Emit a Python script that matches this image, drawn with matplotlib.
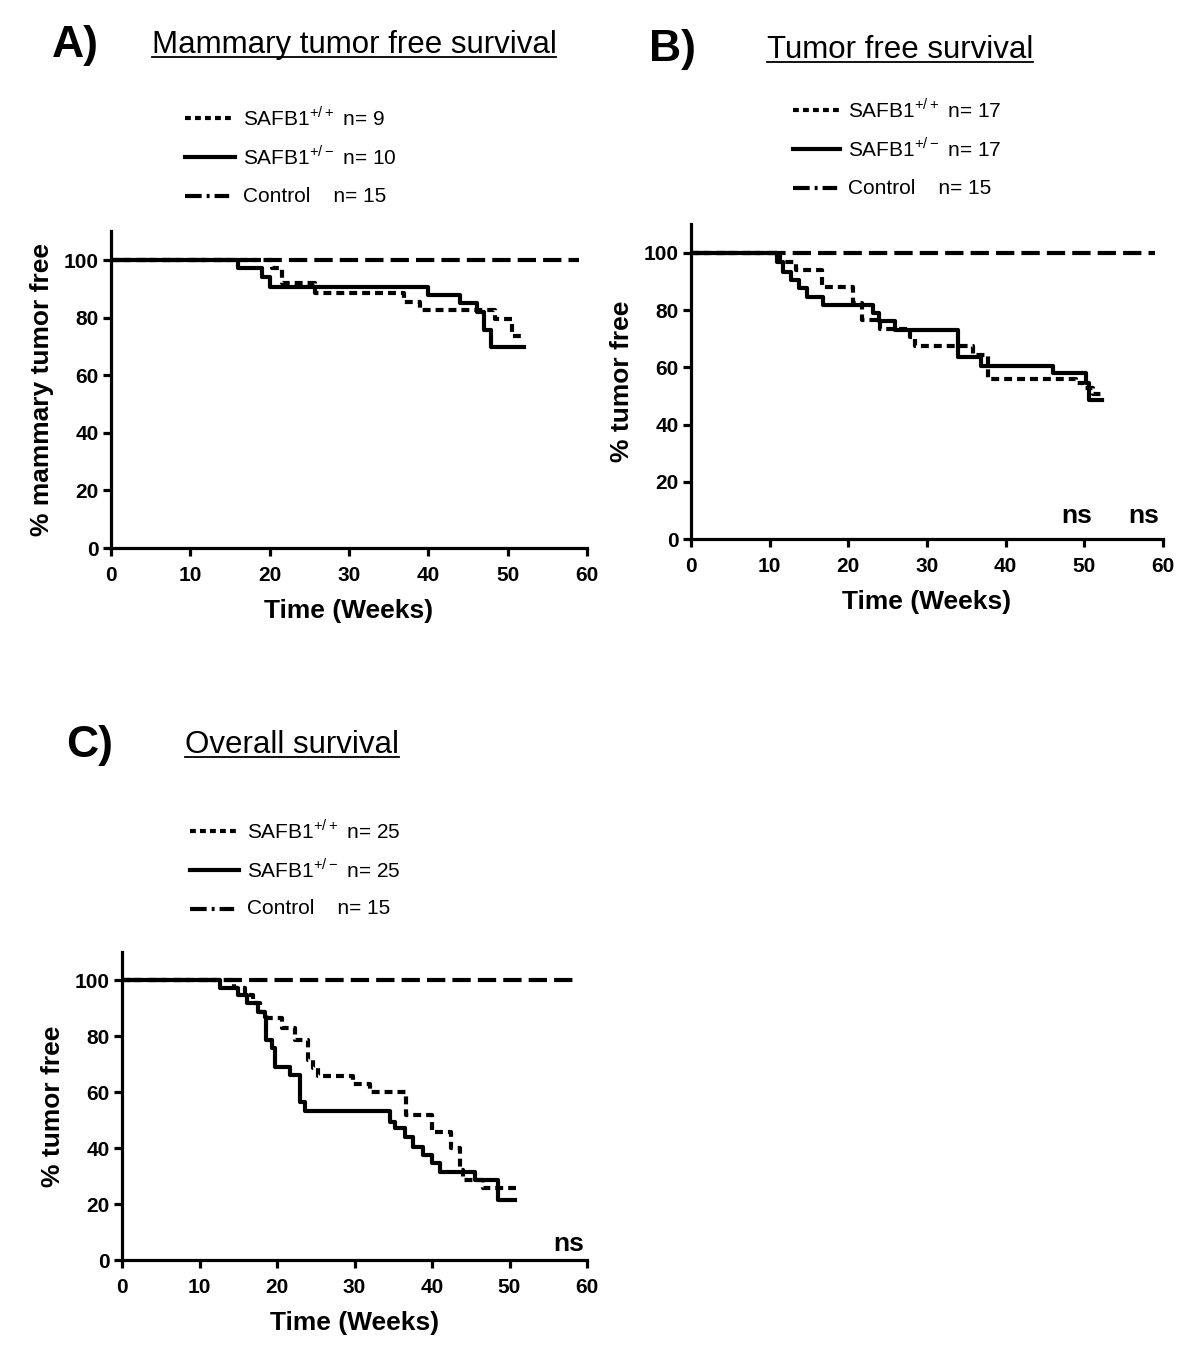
import matplotlib
matplotlib.use('Agg')
from matplotlib import pyplot as plt
from matplotlib.lines import Line2D
import numpy as np

plt.rcParams['font.family'] = ['Liberation Sans', 'DejaVu Sans']
plt.rcParams['mathtext.fontset'] = 'custom'
plt.rcParams['mathtext.rm'] = 'Liberation Sans'

# ---- data (weeks, % free) ----
# A) Mammary tumor free survival
a_wt_t = [0, 20.3, 21.5, 25.7, 36.9, 39.0, 48.4, 50.5, 52.0]
a_wt_s = [100, 97.1, 91.9, 88.4, 85.5, 82.6, 79.4, 73.6, 73.6]
a_het_t = [0, 16.0, 19.0, 20.0, 40.0, 44.0, 46.1, 47.0, 47.9, 52.0]
a_het_s = [100, 97.1, 94.2, 90.7, 87.8, 85.0, 82.1, 75.7, 69.9, 69.9]
a_ctl_t = [0, 59]
a_ctl_s = [100, 100]

# B) Tumor free survival
b_wt_t = [0, 11.3, 13.4, 16.6, 20.6, 21.8, 24.0, 27.8, 28.5, 35.9, 37.8, 49.0, 50.1, 51.1, 52.3]
b_wt_s = [100, 97.0, 94.1, 88.2, 82.4, 76.6, 73.3, 70.7, 67.5, 64.3, 55.8, 54.4, 52.7, 50.7, 50.7]
b_het_t = [0, 10.9, 11.7, 12.7, 13.7, 14.8, 16.8, 23.1, 23.9, 25.9, 34.0, 36.9, 46.0, 50.2, 50.6, 52.3]
b_het_s = [100, 97.0, 93.5, 90.6, 87.7, 84.7, 81.8, 78.9, 76.1, 73.2, 63.7, 60.5, 57.9, 54.4, 48.6, 48.6]
b_ctl_t = [0, 59]
b_ctl_s = [100, 100]

# C) Overall survival
c_wt_t = [0, 14.5, 15.9, 16.9, 17.8, 18.7, 20.6, 22.3, 24.0, 24.7, 25.3, 29.8, 32.0, 36.7, 40.0,
          42.5, 43.6, 44.0, 46.6, 50.9]
c_wt_s = [100, 97.0, 94.6, 91.7, 88.7, 86.3, 82.7, 78.6, 71.4, 68.5, 65.7, 62.9, 60.1, 51.8, 45.8,
          40.0, 32.1, 28.6, 25.6, 25.6]
c_het_t = [0, 12.7, 15.0, 16.1, 17.5, 18.4, 18.6, 19.3, 19.7, 21.7, 23.0, 23.6, 34.6, 35.2, 36.5,
           37.6, 38.8, 40.0, 41.0, 45.5, 48.5, 50.7]
c_het_s = [100, 97.0, 94.6, 91.7, 88.7, 86.9, 78.6, 75.6, 69.0, 66.1, 56.5, 53.3, 49.4, 47.0, 44.0,
           40.5, 37.5, 34.5, 31.5, 28.6, 21.4, 21.4]
c_ctl_t = [0, 59]
c_ctl_s = [100, 100]

legend_A = ['SAFB1$^{\\mathregular{+/+}}$ n= 9', 'SAFB1$^{\\mathregular{+/-}}$ n= 10', 'Control    n= 15']
legend_B = ['SAFB1$^{\\mathregular{+/+}}$ n= 17', 'SAFB1$^{\\mathregular{+/-}}$ n= 17', 'Control    n= 15']
legend_C = ['SAFB1$^{\\mathregular{+/+}}$ n= 25', 'SAFB1$^{\\mathregular{+/-}}$ n= 25', 'Control    n= 15']

W, H = 1200, 1353
fig = plt.figure(figsize=(12, 13.53), dpi=100)


def fx(px):
    return px / W


def fy(py):
    return 1 - py / H


lw = 3.0
dot_style = (0, (1.9, 1.2))
dash_style = (0, (4.4, 1.7))


def make_axes(left, right, y0, y100):
    ytop = y0 - (y0 - y100) * 1.1
    ax = fig.add_axes((fx(left), fy(y0), fx(right - left), (y0 - ytop) / H))
    return ax


def draw_panel(ax, wt_t, wt_s, het_t, het_s, ctl_t, ctl_s, ylabel):
    ax.plot(ctl_t, ctl_s, color='black', lw=lw, linestyle=dash_style, dash_capstyle='butt', zorder=2)
    ax.step(wt_t, wt_s, where='post', color='black', lw=lw, linestyle=dot_style, zorder=3)
    ax.step(het_t, het_s, where='post', color='black', lw=lw, zorder=4)
    ax.set_xlim(0, 60)
    ax.set_ylim(0, 110)
    ax.set_xticks(np.arange(0, 61, 10))
    ax.set_yticks(np.arange(0, 101, 20))
    for s in ['top', 'right']:
        ax.spines[s].set_visible(False)
    for s in ['left', 'bottom']:
        ax.spines[s].set_linewidth(2.3)
    ax.tick_params(direction='out', length=6, width=2.3, labelsize=15, pad=3)
    ax.tick_params(axis='x', pad=7)
    for lab in ax.get_xticklabels() + ax.get_yticklabels():
        lab.set_fontweight('bold')
    ax.set_xlabel('Time (Weeks)', fontsize=19, fontweight='bold', labelpad=10)
    ax.set_ylabel(ylabel, fontsize=19, fontweight='bold', labelpad=7)


def legend_rows(x_handle, x_text, ys, labels):
    styles = [dict(linestyle=(0, (1.4, 1.0))),
              dict(linestyle='-'),
              dict(linestyle=(0, (4.0, 1.2, 0.7, 1.2, 3.5, 10)))]
    for y, lab, st in zip(ys, labels, styles):
        fig.add_artist(Line2D([fx(x_handle), fx(x_text - 8)], [fy(y), fy(y)],
                              transform=fig.transFigure, color='black', lw=lw, **st))
        fig.text(fx(x_text), fy(y), lab, fontsize=15, va='center', ha='left')


titles = []


def header(xl, xt, y, letter, title):
    fig.text(fx(xl), fy(y), letter, fontsize=32, fontweight='bold', ha='center', va='center')
    t = fig.text(fx(xt), fy(y), title, fontsize=22.5, ha='center', va='center')
    titles.append(t)


# Panel A
axA = make_axes(111, 587, 548, 260)
draw_panel(axA, a_wt_t, a_wt_s, a_het_t, a_het_s, a_ctl_t, a_ctl_s, '% mammary tumor free')
header(75, 354, 45, 'A)', 'Mammary tumor free survival')
legend_rows(185, 243, [118, 157, 196], legend_A)

# Panel B
axB = make_axes(691, 1163, 539, 253)
draw_panel(axB, b_wt_t, b_wt_s, b_het_t, b_het_s, b_ctl_t, b_ctl_s, '% tumor free')
header(673, 900, 50, 'B)', 'Tumor free survival')
legend_rows(793, 848, [110, 149, 188], legend_B)
axB.text(49, 4, 'ns', fontsize=19, fontweight='bold', ha='center', va='bottom')
axB.text(57.6, 4, 'ns', fontsize=19, fontweight='bold', ha='center', va='bottom')

# Panel C
axC = make_axes(122, 587, 1260, 980)
draw_panel(axC, c_wt_t, c_wt_s, c_het_t, c_het_s, c_ctl_t, c_ctl_s, '% tumor free')
header(90, 292, 745, 'C)', 'Overall survival')
legend_rows(190, 247, [831, 870, 909], legend_C)
axC.text(57.6, 1.5, 'ns', fontsize=19, fontweight='bold', ha='center', va='bottom')

# underline the panel titles
fig.canvas.draw()
renderer = fig.canvas.get_renderer()
inv = fig.transFigure.inverted()
for t in titles:
    bb = t.get_window_extent(renderer)
    (x0, y0), (x1, _) = inv.transform([[bb.x0, bb.y0], [bb.x1, bb.y1]])
    fig.add_artist(Line2D([x0, x1], [y0 + 0.002, y0 + 0.002], transform=fig.transFigure,
                          color='black', lw=1.3))

fig.savefig('out.png', dpi=100)
